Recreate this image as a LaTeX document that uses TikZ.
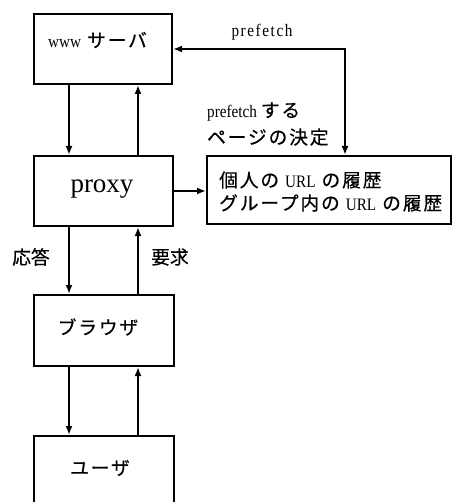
\documentclass[tikz,border=0pt]{standalone}
\usepackage{fontspec}
\setmainfont[FakeStretch=0.87]{Liberation Serif}
\newfontfamily\proxyfont{Liberation Serif}
\newfontfamily\jpfont[Scale=1.07,FakeBold=0.5]{Noto Sans CJK JP}
\newfontfamily\jpwide[Scale=1.07,LetterSpace=10,FakeBold=0.5]{Noto Sans CJK JP}
\newcommand{\J}[1]{{\jpfont #1}}
\newcommand{\JW}[1]{{\jpwide #1}}
\usetikzlibrary{arrows.meta}
\begin{document}
\begin{tikzpicture}[x=1pt,y=-1pt,
  box/.style={draw, line width=2pt, inner sep=0pt},
  lbl/.style={inner sep=0pt, font=\fontsize{17.5}{19}\selectfont},
  arr/.style={line width=1.8pt, -{Latex[length=9pt,width=7pt]}},
  darr/.style={line width=1.8pt, {Latex[length=9pt,width=7pt]}-{Latex[length=9pt,width=7pt]}}]
\useasboundingbox (0,0) rectangle (452,502);
% boxes
\node[box, minimum width=138pt, minimum height=70pt] (www) at (103,49) {};
\node[box, minimum width=139pt, minimum height=70pt] (proxy) at (103.5,191) {};
\node[box, minimum width=244pt, minimum height=68pt] (url) at (329,190) {};
\node[box, minimum width=140pt, minimum height=71pt] (browser) at (104,330.5) {};
\node[box, minimum width=140pt, minimum height=94pt] (user) at (104,483) {};
% texts
\node[lbl] (wwwt) at (97.5,40) {www\hspace{6pt}\JW{サーバ}};
\node[inner sep=0pt, font=\proxyfont\fontsize{27}{30}\selectfont] (proxyt) at (102,189) {proxy};
\node[lbl] (browsert) at (98,327) {\JW{ブラウザ}};
\node[lbl] (usert) at (100,468) {\JW{ユーザ}};
\node[lbl, anchor=west, align=left, font=\fontsize{17.5}{23}\selectfont] (urlt) at (219,191.5)
  {\JW{個人の}\hspace{6pt}URL\hspace{6pt}\JW{の履歴}\\\JW{グループ内の}\hspace{6pt}URL\hspace{6pt}\JW{の履歴}};
\node[lbl, anchor=west, align=left, font=\fontsize{17.5}{27}\selectfont] (dec) at (207,124)
  {prefetch \JW{する}\\\JW{ページの決定}};
\node[lbl, font={\fontsize{17.5}{19}\selectfont\addfontfeatures{LetterSpace=9}}] (pf) at (262,32) {prefetch};
\node[lbl] (resp) at (31,257) {\J{応答}};
\node[lbl] (req) at (170,257) {\J{要求}};
% helper coordinates
\coordinate (cl) at (69,0);
\coordinate (cr) at (138,0);
\coordinate (cp) at (345,49);
% connectors
\draw[arr] (www.south -| cl) -- (proxy.north -| cl);
\draw[arr] (proxy.north -| cr) -- (www.south -| cr);
\draw[arr] (proxy.south -| cl) -- (browser.north -| cl);
\draw[arr] (browser.north -| cr) -- (proxy.south -| cr);
\draw[arr] (browser.south -| cl) -- (user.north -| cl);
\draw[arr] (user.north -| cr) -- (browser.south -| cr);
\draw[arr] (proxy.east) -- (url.west |- proxy.east);
\draw[darr] (www.east) -- (cp) -- (url.north -| cp);
\end{tikzpicture}
\end{document}
